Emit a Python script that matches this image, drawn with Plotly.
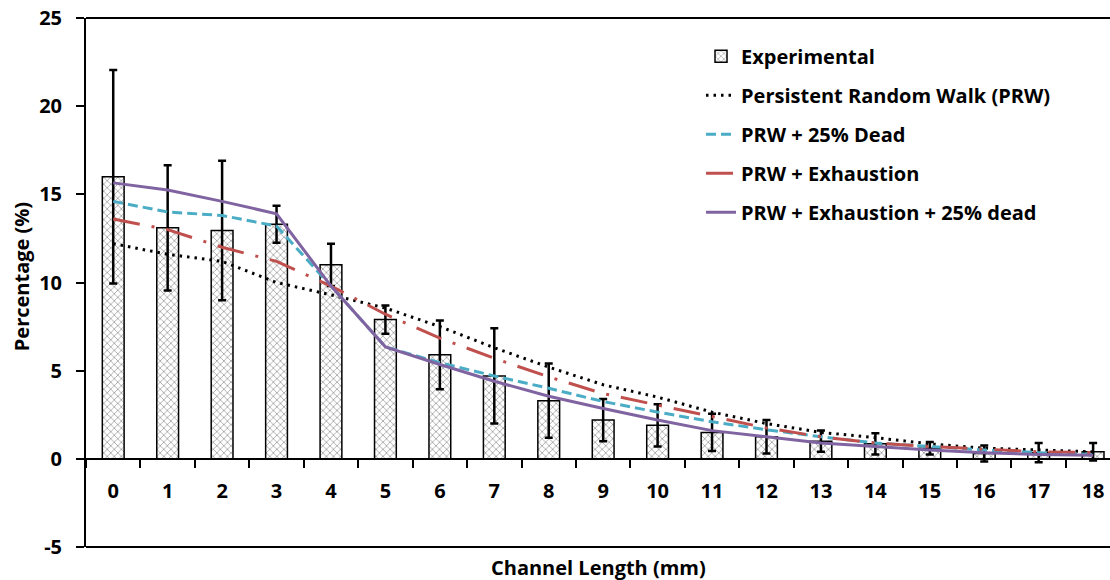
import plotly.graph_objects as go

categories = [str(i) for i in range(19)]
experimental = [16.0, 13.1, 12.95, 13.3, 11.0, 7.9, 5.9, 4.7, 3.3, 2.2, 1.9, 1.5, 1.25, 1.0, 0.85, 0.6, 0.3, 0.35, 0.4]
exp_error = [6.05, 3.55, 3.95, 1.05, 1.2, 0.8, 1.95, 2.7, 2.1, 1.2, 1.2, 1.05, 0.95, 0.6, 0.6, 0.35, 0.45, 0.55, 0.5]
prw = [12.2, 11.6, 11.2, 10.0, 9.3, 8.55, 7.5, 6.3, 5.2, 4.2, 3.5, 2.65, 2.0, 1.5, 1.2, 0.85, 0.6, 0.5, 0.4]
prw_dead = [14.6, 14.0, 13.8, 13.2, 9.8, 6.35, 5.45, 4.7, 4.0, 3.25, 2.65, 2.1, 1.65, 1.25, 0.9, 0.7, 0.5, 0.35, 0.25]
prw_exh = [13.6, 13.0, 12.0, 11.2, 9.8, 8.2, 6.85, 5.7, 4.65, 3.7, 3.05, 2.4, 1.75, 1.25, 0.9, 0.7, 0.55, 0.4, 0.35]
prw_exh_dead = [15.65, 15.25, 14.6, 13.9, 9.8, 6.35, 5.35, 4.4, 3.55, 2.85, 2.2, 1.6, 1.25, 0.9, 0.7, 0.5, 0.35, 0.25, 0.2]
y_ticks = [-5, 0, 5, 10, 15, 20, 25]

FONT = "Open Sans"
FS = 20

fig = go.Figure()
fig.add_trace(go.Bar(
    x=categories, y=experimental, name="Experimental", width=0.4,
    legendgroup="a",
    marker=dict(color="white", line=dict(color="black", width=1.5),
                pattern=dict(shape="x", size=5, solidity=0.3, fgcolor="#444444", bgcolor="white")),
    error_y=dict(type="data", array=exp_error, visible=True, color="black", thickness=2.5, width=4),
))
fig.add_trace(go.Scatter(x=categories, y=prw, mode="lines", name="Persistent Random Walk (PRW)",
                         legendgroup="b", line=dict(color="black", width=3, dash="2.5px,5px")))
fig.add_trace(go.Scatter(x=categories, y=prw_dead, mode="lines", name="PRW + 25% Dead",
                         legendgroup="c", line=dict(color="#4BACC6", width=3, dash="10px,5px")))
fig.add_trace(go.Scatter(x=categories, y=prw_exh, mode="lines", name="PRW + Exhaustion",
                         legendgroup="d", line=dict(color="#C0504D", width=3, dash="27px,12px,3px,12px")))
fig.add_trace(go.Scatter(x=categories, y=prw_exh_dead, mode="lines", name="PRW + Exhaustion + 25% dead",
                         legendgroup="e", line=dict(color="#8064A2", width=3)))

bold = dict(family=FONT, size=FS, color="black", weight="bold")

fig.update_layout(
    width=1110, height=580,
    margin=dict(l=86, r=0, t=18, b=33),
    plot_bgcolor="white", paper_bgcolor="white",
    font=bold,
    showlegend=True,
    legend=dict(x=0.6006, y=0.9646, xanchor="left", yanchor="top", bgcolor="rgba(0,0,0,0)",
                font=bold, tracegroupgap=10, traceorder="grouped"),
)
fig.update_xaxes(
    type="category", range=[-0.5, 18.31], anchor="free", position=1/6,
    showline=True, linecolor="black", linewidth=2,
    ticks="outside", tickson="boundaries", ticklen=8, tickwidth=2, tickcolor="black",
    ticklabelstandoff=14, showgrid=False, zeroline=False, tickfont=bold,
)
fig.update_yaxes(
    range=[-5, 25], tickmode="array", tickvals=y_ticks, ticktext=[str(v) for v in y_ticks],
    showline=True, linecolor="black", linewidth=2,
    ticks="outside", ticklen=8, tickwidth=2, tickcolor="black",
    ticklabelstandoff=10, showgrid=False, zeroline=False, tickfont=bold,
)
fig.add_shape(type="line", xref="paper", yref="paper", x0=0, x1=1, y0=1, y1=1,
              line=dict(color="black", width=2))
fig.add_shape(type="line", xref="paper", yref="paper", x0=0, x1=1, y0=0, y1=0,
              line=dict(color="black", width=2))
fig.add_annotation(text="Channel Length (mm)", xref="paper", yref="paper", x=0.5, y=0,
                   yshift=-20, yanchor="middle", showarrow=False, font=bold)
fig.add_annotation(text="Percentage (%)", xref="paper", yref="paper", x=0, y=0.51,
                   xshift=-65, xanchor="center", yanchor="middle", textangle=-90, showarrow=False,
                   font=bold)

fig.write_html("out.html")
